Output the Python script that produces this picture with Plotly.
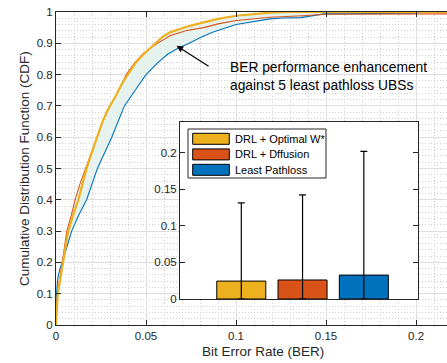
import plotly.graph_objects as go

# Empirical CDF of the bit error rate for each UBS selection scheme
ber_optimal = [0, 0.0005, 0.001, 0.0025, 0.004, 0.0055, 0.0068, 0.0095, 0.0124, 0.0147,
               0.017, 0.0198, 0.0226, 0.0258, 0.029, 0.033, 0.0365, 0.040, 0.0445, 0.0495,
               0.055, 0.059, 0.0633, 0.072, 0.082, 0.090, 0.100, 0.110, 0.119, 0.129, 0.2172]
cdf_optimal = [0, 0.05, 0.10, 0.15, 0.20, 0.25, 0.30, 0.35, 0.40, 0.45,
               0.50, 0.55, 0.60, 0.65, 0.69, 0.73, 0.77, 0.80, 0.84, 0.87,
               0.90, 0.92, 0.935, 0.952, 0.967, 0.978, 0.988, 0.994, 0.998, 1.0, 1.0]

ber_diffusion = [0, 0.0008, 0.0035, 0.006, 0.0085, 0.0106, 0.0133, 0.0165, 0.0195, 0.0225,
                 0.026, 0.030, 0.035, 0.039, 0.044, 0.049, 0.055, 0.0633, 0.072, 0.082,
                 0.090, 0.100, 0.119, 0.137, 0.150, 0.2172]
cdf_diffusion = [0, 0.10, 0.20, 0.30, 0.35, 0.40, 0.45, 0.50, 0.55, 0.60,
                 0.65, 0.70, 0.75, 0.80, 0.84, 0.87, 0.895, 0.924, 0.94, 0.95,
                 0.962, 0.973, 0.983, 0.988, 0.993, 0.994]

ber_pathloss = [0, 0.0003, 0.001, 0.0022, 0.004, 0.0065, 0.0087, 0.0125, 0.017, 0.020,
                0.023, 0.027, 0.031, 0.0345, 0.038, 0.044, 0.050, 0.056, 0.062, 0.068,
                0.074, 0.080, 0.087, 0.100, 0.110, 0.119, 0.126, 0.136, 0.149, 0.1995,
                0.2, 0.2172]
cdf_pathloss = [0, 0.10, 0.15, 0.18, 0.21, 0.26, 0.30, 0.35, 0.40, 0.45,
                0.50, 0.55, 0.60, 0.65, 0.70, 0.75, 0.80, 0.835, 0.865, 0.885,
                0.90, 0.918, 0.935, 0.960, 0.970, 0.978, 0.981, 0.982, 0.994, 0.996,
                1.0, 1.0]

# Mean BER with spread for each scheme (inset)
schemes = ["DRL + Optimal W*", "DRL + Dffusion", "Least Pathloss"]
mean_ber = [0.0245, 0.026, 0.0327]
ber_spread = [0.107, 0.1164, 0.1691]
colors = ["#EDB120", "#D95319", "#0072BD"]

xticks = [0, 0.05, 0.1, 0.15, 0.2]
xtick_text = ["0", "0.05", "0.1", "0.15", "0.2"]
yticks = [0, 0.1, 0.2, 0.3, 0.4, 0.5, 0.6, 0.7, 0.8, 0.9, 1.0]
ytick_text = ["0", "0.1", "0.2", "0.3", "0.4", "0.5", "0.6", "0.7", "0.8", "0.9", "1"]
inset_yticks = [0, 0.05, 0.1, 0.15, 0.2]
inset_ytick_text = ["0", "0.05", "0.1", "0.15", "0.2"]

FONT = "Liberation Sans, Arial, Helvetica, sans-serif"
AX = "#262626"
MINOR = dict(showgrid=True, gridcolor="#cfcfcf", griddash="1px,2px", gridwidth=1)

fig = go.Figure()

# shaded gap between the optimal-weight curve and the least-pathloss curve
fig.add_trace(go.Scatter(
    x=ber_optimal + ber_pathloss[::-1],
    y=cdf_optimal + cdf_pathloss[::-1],
    fill="toself", fillcolor="rgb(229,242,237)", line=dict(width=0),
    mode="lines", hoverinfo="skip", showlegend=False))

fig.add_trace(go.Scatter(x=ber_pathloss, y=cdf_pathloss, mode="lines",
                         line=dict(color=colors[2], width=1.1), showlegend=False))
fig.add_trace(go.Scatter(x=ber_diffusion, y=cdf_diffusion, mode="lines",
                         line=dict(color=colors[1], width=1.1), showlegend=False))
fig.add_trace(go.Scatter(x=ber_optimal, y=cdf_optimal, mode="lines",
                         line=dict(color=colors[0], width=2.2), showlegend=False))

# inset bar chart of mean BER
fig.add_trace(go.Bar(
    x=[1, 2, 3], y=mean_ber, width=0.8,
    marker=dict(color=colors, line=dict(color="black", width=1)),
    error_y=dict(type="data", symmetric=False, array=ber_spread, arrayminus=mean_ber,
                 color="black", thickness=1.2, width=3.5),
    xaxis="x2", yaxis="y2", showlegend=False))

W, H = 447, 363
ML, MR, MT, MB = 56, 0, 12, 38
PW, PH = W - ML - MR, H - MT - MB


def px_x(p):
    return (p - ML) / PW


def px_y(p):
    return (H - MB - p) / PH


fig.update_layout(
    width=W, height=H,
    margin=dict(l=ML, r=MR, t=MT, b=MB),
    paper_bgcolor="white", plot_bgcolor="white",
    font=dict(family=FONT, size=11.5, color=AX),
    xaxis=dict(range=[0, 0.2172], domain=[0, 1], tickvals=xticks, ticktext=xtick_text,
               ticks="inside", ticklen=5, tickcolor=AX, showline=True, linecolor=AX,
               linewidth=1, mirror="ticks", showgrid=True, gridcolor="#dedede",
               gridwidth=1, zeroline=False, minor=dict(dtick=0.01, **MINOR)),
    yaxis=dict(range=[0, 1], domain=[0, 1], tickvals=yticks, ticktext=ytick_text,
               ticks="inside", ticklen=5, tickcolor=AX, showline=True, linecolor=AX,
               linewidth=1, mirror=False, showgrid=True, gridcolor="#dedede",
               gridwidth=1, zeroline=False, minor=dict(dtick=0.02, **MINOR)),
    xaxis2=dict(domain=[px_x(180), px_x(418)], range=[0, 3.884], anchor="y2",
                showline=True, linecolor=AX, linewidth=1, mirror=True,
                showticklabels=False, ticks="", showgrid=False, zeroline=False),
    yaxis2=dict(domain=[px_y(299), px_y(122.3)], range=[0, 0.2416], anchor="x2",
                tickvals=inset_yticks, ticktext=inset_ytick_text, ticks="inside",
                ticklen=5, tickcolor=AX, showline=True, linecolor=AX, linewidth=1,
                mirror="ticks", showgrid=False, zeroline=False),
    showlegend=False,
)

# axis titles
fig.add_annotation(text="Bit Error Rate (BER)", xref="paper", yref="paper",
                   x=px_x(263), y=px_y(352), showarrow=False,
                   font=dict(size=13.5, color=AX), xanchor="center", yanchor="middle")
fig.add_annotation(text="Cumulative Distribution Function (CDF)", xref="paper",
                   yref="paper", x=px_x(24), y=px_y(169), showarrow=False, textangle=-90,
                   font=dict(size=13.5, color=AX), xanchor="center", yanchor="middle")

# callout arrow and text
fig.add_annotation(x=0.067, y=0.892, ax=0.0856, ay=0.824, xref="x", yref="y",
                   axref="x", ayref="y", text="", showarrow=True, arrowhead=2,
                   arrowsize=1.1, arrowwidth=1.2, arrowcolor="black")
fig.add_annotation(x=0.0953, y=0.7954, xref="x", yref="y", showarrow=False,
                   text="BER performance enhancement<br>against 5 least pathloss UBSs",
                   xanchor="left", yanchor="middle", align="left",
                   font=dict(size=13.8, color="black"))

# inset legend box
fig.add_shape(type="rect", xref="paper", yref="paper",
              x0=px_x(188), x1=px_x(326), y0=px_y(178), y1=px_y(129),
              line=dict(color=AX, width=1), fillcolor="white", layer="above")
row_centres = [138.8, 154.4, 169.8]
for name, col, yc in zip(schemes, colors, row_centres):
    fig.add_shape(type="rect", xref="paper", yref="paper",
                  x0=px_x(192.7), x1=px_x(229.3), y0=px_y(yc + 5.5), y1=px_y(yc - 5.5),
                  line=dict(color="black", width=1), fillcolor=col, layer="above")
    fig.add_annotation(text=name, xref="paper", yref="paper", x=px_x(232.5),
                       y=px_y(yc), showarrow=False, xanchor="left", yanchor="middle",
                       font=dict(size=11, color="black"))

fig.write_html("out.html")
